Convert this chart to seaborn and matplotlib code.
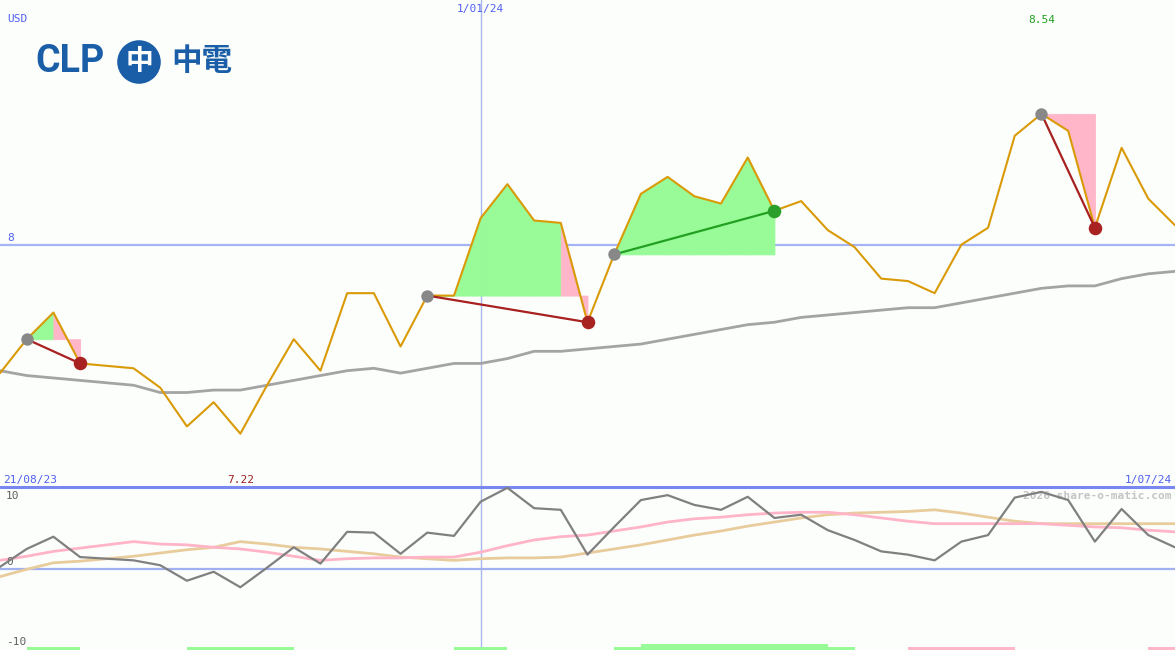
import numpy as np
import pandas as pd
import seaborn as sns
import matplotlib.pyplot as plt

# Data (weekly closes, index 0 = 21/08/23)
price = [7.47, 7.61, 7.72, 7.51, 7.50, 7.49, 7.41, 7.25, 7.35, 7.22,
         7.42, 7.61, 7.48, 7.80, 7.80, 7.58, 7.79, 7.79, 8.11, 8.25,
         8.10, 8.09, 7.68, 7.96, 8.21, 8.28, 8.20, 8.17, 8.36, 8.14,
         8.18, 8.06, 7.99, 7.86, 7.85, 7.80, 8.00, 8.07, 8.45, 8.54,
         8.47, 8.07, 8.40, 8.19, 8.08]
moving_avg = [7.48, 7.46, 7.45, 7.44, 7.43, 7.42, 7.39, 7.39, 7.40, 7.40,
              7.42, 7.44, 7.46, 7.48, 7.49, 7.47, 7.49, 7.51, 7.51, 7.53,
              7.56, 7.56, 7.57, 7.58, 7.59, 7.61, 7.63, 7.65, 7.67, 7.68,
              7.70, 7.71, 7.72, 7.73, 7.74, 7.74, 7.76, 7.78, 7.80, 7.82,
              7.83, 7.83, 7.86, 7.88, 7.89]
osc = [0.2, 2.4, 3.9, 1.4, 1.2, 1.0, 0.4, -1.5, -0.4, -2.3,
       0.1, 2.6, 0.6, 4.5, 4.4, 1.8, 4.4, 4.0, 8.2, 9.9,
       7.4, 7.2, 1.7, 5.1, 8.4, 9.0, 7.8, 7.2, 8.8, 6.2,
       6.6, 4.7, 3.5, 2.1, 1.7, 1.0, 3.3, 4.1, 8.7, 9.4,
       8.4, 3.3, 7.3, 4.1, 2.6]
osc_pink = [1.0, 1.5, 2.1, 2.5, 2.9, 3.3, 3.0, 2.9, 2.6, 2.4,
            2.0, 1.5, 1.0, 1.2, 1.3, 1.3, 1.4, 1.4, 2.0, 2.8,
            3.5, 3.9, 4.1, 4.6, 5.1, 5.7, 6.1, 6.3, 6.6, 6.8,
            6.9, 6.9, 6.6, 6.2, 5.8, 5.5, 5.5, 5.5, 5.5, 5.5,
            5.3, 5.1, 5.0, 4.7, 4.5]
osc_tan = [-1.0, -0.1, 0.7, 0.9, 1.2, 1.5, 1.9, 2.3, 2.6, 3.3,
           3.0, 2.6, 2.4, 2.1, 1.8, 1.4, 1.2, 1.0, 1.2, 1.3,
           1.3, 1.4, 1.9, 2.4, 2.9, 3.5, 4.1, 4.6, 5.2, 5.7,
           6.2, 6.6, 6.8, 6.9, 7.0, 7.2, 6.8, 6.3, 5.8, 5.5,
           5.5, 5.5, 5.5, 5.5, 5.5]
trade_entry = [1, 16, 23, 39]
trade_exit = [3, 22, 29, 41]
sig_start = [1, 7, 17, 23, 24, 34, 43]
sig_end = [3, 11, 19, 32, 31, 38, 44]
sig_kind = [1, 1, 1, 1, 2, -1, -1]
date_labels = ['21/08/23', '1/01/24', '1/07/24']
year_mark = 18
price_level = 8

df = pd.DataFrame({'i': np.arange(len(price)), 'price': price, 'ma': moving_avg,
                   'osc': osc, 'pink': osc_pink, 'tan': osc_tan})

bg = '#fcfefc'
blue_txt = '#5060f0'
sns.set_style('white')
plt.rcParams['font.family'] = ['DejaVu Sans Mono']

fig = plt.figure(figsize=(11.75, 6.5), dpi=100, facecolor=bg)
ax = fig.add_axes([0, 163 / 650, 1, 487 / 650])
ax2 = fig.add_axes([0, 0, 1, 163 / 650])
for a in (ax, ax2):
    a.set_facecolor(bg)
    a.set_xlim(0, len(price) - 1)
    for s in a.spines.values():
        s.set_visible(False)
    a.set_xticks([])
    a.set_yticks([])
ax.set_ylim(7.0, 9.01)
ax2.set_ylim(-10, 10)

# reference lines
ax.axhline(price_level, color='#a4b4f4', lw=1.6, zorder=1)
ax.axvline(year_mark, color='#a8b8ec', lw=1.0, zorder=1)
ax2.axvline(year_mark, color='#a8b8ec', lw=1.0, zorder=1)
ax2.axhline(0, color='#a0b0f0', lw=1.6, zorder=1)
ax2.axhline(10, color='#7888f0', lw=2.2, zorder=1, clip_on=False)

# trade fills: green while the week closes above entry, pink below
for e, x in zip(trade_entry, trade_exit):
    lvl = price[e]
    for k in range(e, x):
        col = '#98fb98' if price[k + 1] >= lvl else '#ffb6c8'
        ax.fill_between([k, k + 1], [price[k], price[k + 1]], lvl, color=col,
                        ec=col, lw=0.6, zorder=2)

sns.lineplot(df, x='i', y='ma', ax=ax, color='#a4a4a4', lw=2.0, zorder=3)
sns.lineplot(df, x='i', y='price', ax=ax, color='#d99a06', lw=1.5, zorder=4)

for e, x in zip(trade_entry, trade_exit):
    win = price[x] > price[e]
    lc = '#22a022' if win else '#a82020'
    sns.lineplot(x=[e, x], y=[price[e], price[x]], ax=ax, color=lc, lw=1.6, zorder=5)
    ax.scatter([e], [price[e]], s=80, color='#888888', zorder=6, lw=0)
    ax.scatter([x], [price[x]], s=95, color='#2aa02a' if win else '#a82222', zorder=6, lw=0)

# oscillator panel
sns.lineplot(df, x='i', y='tan', ax=ax2, color='#e8cc9c', lw=2.0, zorder=2)
sns.lineplot(df, x='i', y='pink', ax=ax2, color='#ffb4c8', lw=2.0, zorder=3)
sns.lineplot(df, x='i', y='osc', ax=ax2, color='#808080', lw=1.6, zorder=4)
for s0, s1, kd in zip(sig_start, sig_end, sig_kind):
    h = 0.75 if kd == 2 else 0.4
    col = '#98fb98' if kd > 0 else '#ffb6c8'
    ax2.fill_between([s0, s1], -10, -10 + h, color=col, lw=0, zorder=5)
for a in (ax, ax2):
    a.set_xlabel(None)
    a.set_ylabel(None)

# labels
fs = 8
ax.text(0.006, 0.96, 'USD', transform=ax.transAxes, color=blue_txt, fontsize=fs, va='center')
ax.text(year_mark, 0.982, date_labels[1], transform=ax.get_xaxis_transform(),
        color=blue_txt, fontsize=fs, ha='center', va='center')
imax = int(np.argmax(price))
imin = int(np.argmin(price))
ax.text(imax, 0.958, f'{price[imax]:.2f}', transform=ax.get_xaxis_transform(),
        color='#22a022', fontsize=fs, ha='center', va='center')
ax.text(0.006, price_level + 0.005, str(price_level), color=blue_txt, fontsize=fs, va='bottom',
        transform=ax.get_yaxis_transform())
ax.text(0.003, 0.014, date_labels[0], transform=ax.transAxes, color=blue_txt, fontsize=fs, va='center')
ax.text(imin, 0.014, f'{price[imin]:.2f}', transform=ax.get_xaxis_transform(),
        color='#a02020', fontsize=fs, ha='center', va='center')
ax.text(0.997, 0.014, date_labels[2], transform=ax.transAxes, color=blue_txt, fontsize=fs,
        ha='right', va='center')
ytr = ax2.get_yaxis_transform()
ax2.text(0.005, 8.9, '10', color='#606060', fontsize=fs, va='center', transform=ytr)
ax2.text(0.005, 0.8, '0', color='#606060', fontsize=fs, va='center', transform=ytr)
ax2.text(0.005, -9.0, '-10', color='#606060', fontsize=fs, va='center', transform=ytr)
ax2.text(0.997, 8.9, '2026 share-o-matic.com', color='#c4c4c4', fontsize=fs, ha='right',
         va='center', fontweight='bold', transform=ytr)

# logo
logo_blue = '#1a5ea8'
fig.text(35 / 1175, 1 - 61 / 650, 'CLP', fontsize=27, color=logo_blue,
         family=['Roboto', 'DejaVu Sans'], fontweight='bold', va='center')
fig.text(139 / 1175, 1 - 62 / 650, '中', fontsize=20, color='white', ha='center', va='center',
         family='Noto Sans CJK SC', fontweight='bold',
         bbox=dict(boxstyle='circle,pad=0.28', fc=logo_blue, ec='none'))
fig.text(171 / 1175, 1 - 61 / 650, '中電', fontsize=22, color=logo_blue, va='center',
         family='Noto Sans CJK TC', fontweight='bold')

fig.savefig('out.png', dpi=100, facecolor=bg)
